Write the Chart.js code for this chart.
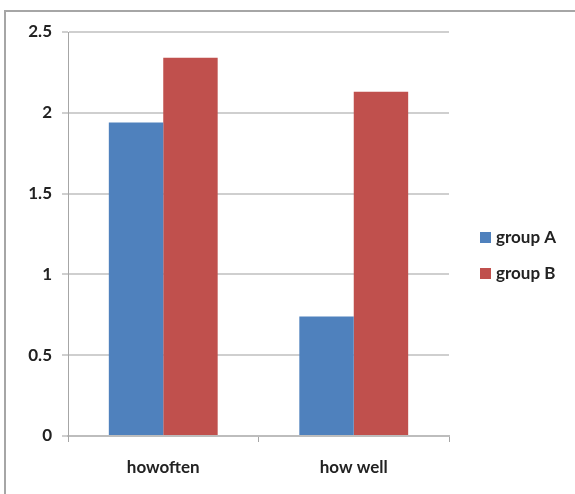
<!DOCTYPE html>
<html>
<head>
<meta charset="utf-8">
<script src="https://cdn.jsdelivr.net/npm/chart.js@4/dist/chart.umd.min.js"></script>
<style>
  html, body { margin: 0; padding: 0; background: #fff; overflow: hidden; }
  #wrap { position: relative; width: 575px; height: 494px; }
  #frame {
    position: absolute; left: 4px; top: 10px; width: 700px; height: 700px;
    border-left: 2px solid #a6a6a6; border-top: 2px solid #a6a6a6;
  }
  canvas { position: absolute; left: 0; top: 0; }
</style>
</head>
<body>
<div id="wrap">
  <div id="frame"></div>
  <canvas id="chart" width="575" height="494"></canvas>
</div>
<script>
const categories = ['howoften', 'how well'];
const groupA = [1.94, 0.74];
const groupB = [2.34, 2.13];
const seriesNames = ['group A', 'group B'];
const yTicks = [0, 0.5, 1, 1.5, 2, 2.5];

const FONT = 'Lato, "Liberation Sans", sans-serif';
const TEXT = '#222';

// Legend drawn at the right of the plot, one row per dataset
const sideLegend = {
  id: 'sideLegend',
  afterDraw(chart) {
    const ctx = chart.ctx;
    const rows = [237.5, 273.5];
    ctx.save();
    ctx.font = 'bold 17px ' + FONT;
    ctx.textBaseline = 'middle';
    ctx.textAlign = 'left';
    chart.data.datasets.forEach((ds, i) => {
      const cy = rows[i];
      ctx.fillStyle = ds.backgroundColor;
      ctx.fillRect(480, cy - 5.5, 11, 11);
      ctx.fillStyle = TEXT;
      ctx.fillText(ds.label, 496, cy);
    });
    ctx.restore();
  }
};

new Chart(document.getElementById('chart'), {
  type: 'bar',
  data: {
    labels: categories,
    datasets: [
      { label: seriesNames[0], data: groupA, backgroundColor: '#4F81BD' },
      { label: seriesNames[1], data: groupB, backgroundColor: '#C0504D' }
    ]
  },
  options: {
    responsive: false,
    animation: false,
    devicePixelRatio: 1,
    categoryPercentage: 2 / 3.5,
    barPercentage: 1.0,
    layout: { padding: { left: 0, top: 32, right: 126, bottom: 0 } },
    plugins: {
      legend: { display: false },
      tooltip: { enabled: false }
    },
    scales: {
      x: {
        afterFit(scale) { scale.height = 58; },
        grid: {
          offset: true,
          drawOnChartArea: false,
          drawTicks: true,
          tickLength: 6,
          color: '#a6a6a6'
        },
        border: { color: '#bdbdbd', width: 2 },
        ticks: {
          padding: 15,
          color: TEXT,
          font: { family: FONT, size: 17, weight: 'bold' }
        }
      },
      y: {
        min: 0,
        max: 2.5,
        afterFit(scale) { scale.width = 68; },
        afterBuildTicks(scale) { scale.ticks = yTicks.map(v => ({ value: v })); },
        grid: {
          color: '#cfcfcf',
          lineWidth: 2,
          drawTicks: true,
          tickLength: 6
        },
        border: { color: '#a6a6a6', width: 1 },
        ticks: {
          padding: 10,
          color: TEXT,
          font: { family: FONT, size: 17, weight: 'bold' },
          callback: v => String(v)
        }
      }
    }
  },
  plugins: [sideLegend]
});
</script>
</body>
</html>
